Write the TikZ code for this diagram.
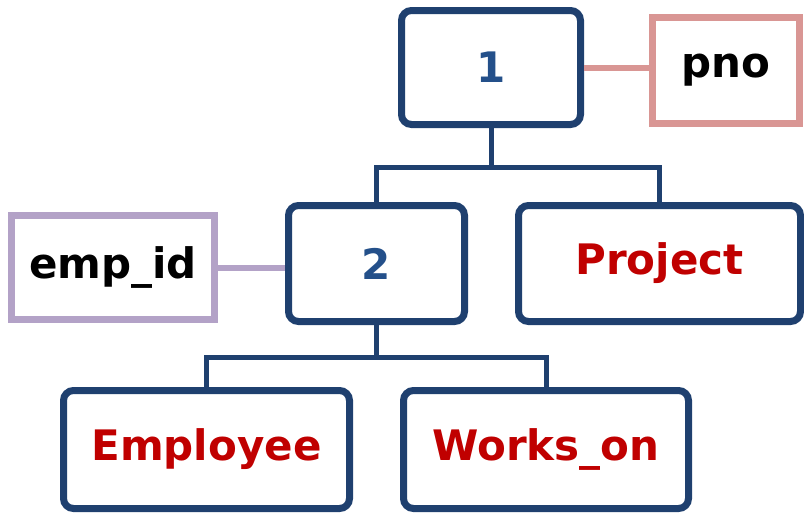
\documentclass[tikz,border=0pt]{standalone}
\usepackage{fontspec}
\setmainfont{DejaVu Sans}
\usetikzlibrary{positioning, shadows}
\definecolor{treeblue}{HTML}{1F406F}
\definecolor{numblue}{HTML}{24508A}
\definecolor{relred}{HTML}{C00000}
\definecolor{keypink}{HTML}{D99694}
\definecolor{keypurple}{HTML}{B3A2C7}

\begin{document}
\begin{tikzpicture}[
    x=1pt, y=-1pt,
    font=\fontsize{42}{48}\selectfont\bfseries,
    opnode/.style={
        draw=treeblue, fill=white, line width=7pt,
        rectangle, rounded corners=10pt, align=center,
        drop shadow={opacity=0.25, shadow xshift=1.5pt, shadow yshift=-3pt},
    },
    relnode/.style={opnode, text=relred},
    keybox/.style={
        draw=#1, fill=white, line width=7pt, rectangle,
        minimum height=106pt, align=center, text=black,
    },
    tree/.style={draw=treeblue, line width=5pt},
    keyline/.style={draw=#1, line width=6pt},
]
\useasboundingbox (0,0) rectangle (804,514);

% ===== Top: join 1 and its key =====
\node[opnode, text=numblue, minimum width=179pt, minimum height=114pt] (n1) at (491, 67.5) {1};
\node[keybox=keypink, minimum width=147pt] (pno) at (726, 70) {pno};

% ===== Middle: join 2, Project, key emp_id =====
\node[opnode, text=numblue, minimum width=176pt, minimum height=116pt] (n2) at (376.5, 263.5) {2};
\node[relnode, minimum width=282pt, minimum height=116pt] (proj) at (659.5, 263.5) {Project};
\node[keybox=keypurple, minimum width=203pt, minimum height=104pt] (empid) at (113, 267.5) {emp\_id};

% ===== Bottom: Employee, Works_on =====
\node[relnode, minimum width=286pt, minimum height=118pt] (emp) at (206.5, 449.5) {Employee};
\node[relnode, minimum width=285pt, minimum height=118pt] (works) at (546, 449.5) {Works\_on};

% ===== Tree lines =====
\coordinate (j1) at (491, 167);
\coordinate (j2) at (376.5, 357);
\draw[tree] (n1.south) -- (j1);
\draw[tree] (n2.north) |- (j1) -| (proj.north);
\draw[tree] (n2.south) -- (j2);
\draw[tree] (emp.north) |- (j2) -| (works.north);

% ===== Key lines =====
\draw[keyline=keypink] (n1.east) -- (n1.east -| pno.west);
\draw[keyline=keypurple] (empid.east) -- (empid.east -| n2.west);

\end{tikzpicture}
\end{document}
